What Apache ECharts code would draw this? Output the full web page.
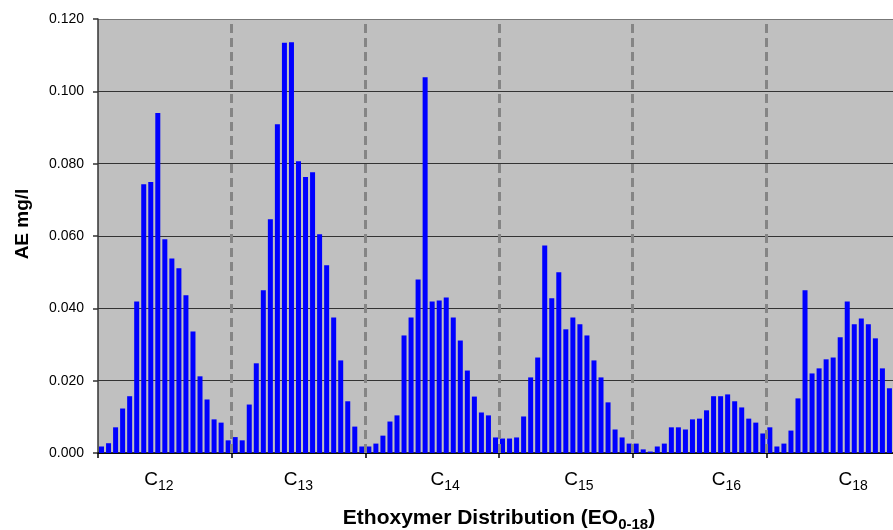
<!DOCTYPE html>
<html>
<head>
<meta charset="utf-8">
<script src="https://cdn.jsdelivr.net/npm/echarts@6/dist/echarts.min.js"></script>
<style>
html,body{margin:0;padding:0;background:#fff;}
#chart{width:893px;height:530px;}
</style>
</head>
<body>
<div id="chart"></div>
<script>
// ---- data ----
const chainLengths = ['12', '13', '14', '15', '16', '18'];
const eoLevels = ['EO0','EO1','EO2','EO3','EO4','EO5','EO6','EO7','EO8','EO9','EO10','EO11','EO12','EO13','EO14','EO15','EO16','EO17','EO18'];
const c12 = [0.0018, 0.0027, 0.0071, 0.0123, 0.0157, 0.0419, 0.0743, 0.0749, 0.0940, 0.0591, 0.0538, 0.0511, 0.0436, 0.0336, 0.0212, 0.0148, 0.0093, 0.0084, 0.0035];
const c13 = [0.0044, 0.0035, 0.0134, 0.0248, 0.0450, 0.0646, 0.0909, 0.1134, 0.1136, 0.0807, 0.0763, 0.0776, 0.0605, 0.0519, 0.0375, 0.0256, 0.0143, 0.0073, 0.0018];
const c14 = [0.0018, 0.0026, 0.0048, 0.0087, 0.0104, 0.0325, 0.0375, 0.0480, 0.1039, 0.0419, 0.0422, 0.0430, 0.0375, 0.0311, 0.0228, 0.0156, 0.0112, 0.0104, 0.0043];
const c15 = [0.0040, 0.0040, 0.0043, 0.0101, 0.0209, 0.0264, 0.0574, 0.0428, 0.0500, 0.0342, 0.0375, 0.0356, 0.0325, 0.0256, 0.0209, 0.0140, 0.0065, 0.0043, 0.0026];
const c16 = [0.0026, 0.0010, 0.0004, 0.0018, 0.0026, 0.0071, 0.0071, 0.0065, 0.0093, 0.0095, 0.0118, 0.0157, 0.0157, 0.0162, 0.0143, 0.0126, 0.0095, 0.0084, 0.0054];
const c18 = [0.0071, 0.0018, 0.0026, 0.0062, 0.0151, 0.0450, 0.0220, 0.0234, 0.0259, 0.0264, 0.0320, 0.0419, 0.0356, 0.0372, 0.0356, 0.0317, 0.0234, 0.0179, 0.0120];
const yTicks = { min: 0, max: 0.12, step: 0.02 };
const xTitleMain = 'Ethoxymer Distribution (EO';
const xTitleSub = '0-18';
const yTitle = 'AE mg/l';

// ---- layout constants ----
const labelShift = [-6, 0, 13, 13, 27, 20];
const FONT = "'Liberation Sans', Arial, Helvetica, sans-serif";

const groups = [c12, c13, c14, c15, c16, c18];
const categories = [];
const values = [];
groups.forEach((g, gi) => {
  g.forEach((v, i) => {
    categories.push('C' + chainLengths[gi] + ' ' + eoLevels[i]);
    values.push(v);
  });
});

const rich = {
  c: { fontSize: 19, fontFamily: FONT, color: '#000' },
  s: { fontSize: 14, fontFamily: FONT, color: '#000', padding: [12, 0, 0, 0] }
};
labelShift.forEach((s, i) => { rich['p' + i] = { width: Math.abs(s) * 2, fontSize: 14 }; });

const chart = echarts.init(document.getElementById('chart'), null, { renderer: 'canvas' });
chart.setOption({
  animation: false,
  backgroundColor: '#ffffff',
  grid: {
    left: 98, right: -7, top: 19, bottom: 77,
    show: true, backgroundColor: '#c0c0c0', borderWidth: 0,
    containLabel: false, outerBoundsMode: 'none'
  },
  xAxis: [
    {
      type: 'category', data: categories, position: 'bottom',
      axisLine: { show: false }, axisTick: { show: false }, axisLabel: { show: false },
      splitLine: { show: false }
    },
    {
      type: 'category', data: chainLengths, position: 'bottom', boundaryGap: true,
      axisLine: { show: true, lineStyle: { color: '#000', width: 1.5 } },
      axisTick: { show: true, interval: 0, length: 5, inside: false, lineStyle: { color: '#000', width: 1.5 } },
      axisLabel: {
        interval: 0, margin: 14,
        formatter: function (val, idx) {
          const sh = labelShift[idx];
          const sp = sh ? '{p' + idx + '| }' : '';
          const core = '{c|C}{s|' + val + '}';
          return sh > 0 ? sp + core : core + sp;
        },
        rich: rich
      },
      splitLine: { show: false },
      name: '{t|' + xTitleMain + '}{ts|' + xTitleSub + '}{t|)}',
      nameLocation: 'middle', nameGap: 52,
      nameTextStyle: {
        rich: {
          t: { fontSize: 21, fontWeight: 'bold', fontFamily: FONT, color: '#000' },
          ts: { fontSize: 15, fontWeight: 'bold', fontFamily: FONT, color: '#000', padding: [12, 0, 0, 0] }
        }
      }
    },
    {
      type: 'value', min: 0, max: 6, position: 'bottom', show: false
    }
  ],
  yAxis: {
    type: 'value', min: yTicks.min, max: yTicks.max, interval: yTicks.step,
    axisLine: { show: true, lineStyle: { color: '#333', width: 1.5 } },
    axisTick: { show: true, length: 5, lineStyle: { color: '#333', width: 1.5 } },
    axisLabel: {
      margin: 14, fontSize: 14, fontFamily: FONT, color: '#000',
      formatter: function (v) { return v.toFixed(3); }
    },
    splitLine: { show: true, lineStyle: { color: ['#333', '#333', '#333', '#333', '#333', '#333', '#777'], width: 1 } },
    name: yTitle, nameLocation: 'middle', nameGap: 66, nameRotate: 90,
    nameTextStyle: { fontSize: 19, fontWeight: 'bold', fontFamily: FONT, color: '#000', padding: [0, 0, 0, 24] }
  },
  series: [
    {
      type: 'bar', xAxisIndex: 0, yAxisIndex: 0, data: values,
      barWidth: 5, itemStyle: { color: '#0000ff' }, silent: true
    },
    {
      type: 'line', xAxisIndex: 2, yAxisIndex: 0, data: [], silent: true,
      markLine: {
        silent: true, symbol: ['none', 'none'], label: { show: false },
        lineStyle: { color: '#858585', width: 3, type: [9, 5] },
        data: [{ xAxis: 1 }, { xAxis: 2 }, { xAxis: 3 }, { xAxis: 4 }, { xAxis: 5 }]
      }
    }
  ]
});
</script>
</body>
</html>
